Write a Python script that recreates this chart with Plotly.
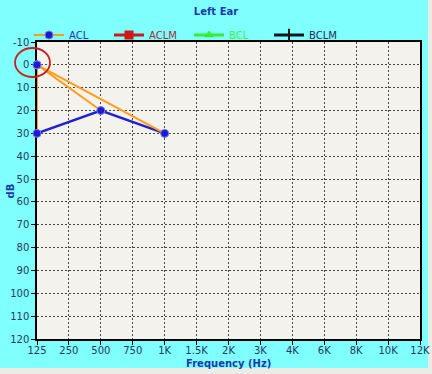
import plotly.graph_objects as go

freq_labels = ["125", "250", "500", "750", "1K", "1.5K", "2K", "3K", "4K", "6K", "8K", "10K", "12K"]
db_ticks = list(range(-10, 121, 10))

# ACL (orange connecting path with blue markers)
acl_x = ["125", "125", "500", "125", "1K"]
acl_y = [30, 0, 20, 0, 30]
# blue threshold line
thr_x = ["125", "500", "1K"]
thr_y = [30, 20, 30]

W, H = 432, 374
L, R, T, B = 37, 12, 42, 35
pw, ph = W - L - R, H - T - B

def px(x):
    return (x - L) / pw

def py(y):
    return (H - B - y) / ph

FONT = "DejaVu Sans"
NAVY = "#1f3a60"
BLUE_T = "#1a3aaa"
OUTER = "#ecebe4"

fig = go.Figure()
fig.add_trace(go.Scatter(x=thr_x, y=thr_y, mode="lines",
                         line=dict(color="#2222cc", width=2.5), showlegend=False))
fig.add_trace(go.Scatter(x=acl_x, y=acl_y, mode="lines+markers", name="ACL",
                         cliponaxis=False,
                         line=dict(color="#ff9c1a", width=2),
                         marker=dict(color="#1c1cc8", size=8, symbol="circle",
                                     line=dict(color="#7a7aff", width=1))))
fig.add_trace(go.Scatter(x=[None], y=[None], mode="lines+markers", name="ACLM",
                         line=dict(color="#d01818", width=3),
                         marker=dict(color="#d01818", size=9, symbol="square")))
fig.add_trace(go.Scatter(x=[None], y=[None], mode="lines+markers", name="BCL",
                         line=dict(color="#33ee33", width=3),
                         marker=dict(color="#33ee33", size=9, symbol="triangle-up")))
fig.add_trace(go.Scatter(x=[None], y=[None], mode="lines+markers", name="BCLM",
                         line=dict(color="#101820", width=3),
                         marker=dict(color="#101820", size=9, symbol="line-ns",
                                     line=dict(color="#101820", width=2))))

legend_colors = ["#1a3aaa", "#a03030", "#44ee44", "#1f2f50"]

fig.update_layout(
    width=W, height=H,
    margin=dict(l=L, r=R, t=T, b=B, autoexpand=False),
    paper_bgcolor="#80ffff",
    plot_bgcolor="#f4f2ec",
    font=dict(family=FONT, size=10, color=NAVY),
    title=dict(text="<b>Left Ear</b>", x=216 / W, xref="container", xanchor="center",
               y=1 - 11 / H, yanchor="middle", yref="container",
               font=dict(family=FONT, size=10, color=BLUE_T)),
    showlegend=True,
    legend=dict(orientation="h", x=px(29), xanchor="left", y=py(35), yanchor="middle",
                bgcolor="rgba(0,0,0,0)", entrywidth=35, entrywidthmode="pixels",
                font=dict(family=FONT, size=10, color=BLUE_T)),
    xaxis=dict(type="category", categoryorder="array", categoryarray=freq_labels,
               tickmode="array", tickvals=freq_labels, ticktext=freq_labels,
               range=[0, len(freq_labels) - 1], automargin=False, layer="below traces",
               showgrid=True, gridcolor="#444444", gridwidth=1, griddash="2px,2px",
               showline=True, linecolor="#000000", linewidth=1.5, mirror=True,
               ticks="outside", ticklen=4, tickcolor="#000000", ticklabelstandoff=-3,
               tickfont=dict(family=FONT, size=10, color=NAVY),
               zeroline=False),
    yaxis=dict(range=[120, -10], tickmode="array", tickvals=db_ticks,
               ticktext=[str(v) for v in db_ticks], automargin=False, layer="below traces",
               showgrid=True, gridcolor="#444444", gridwidth=1, griddash="2px,2px",
               showline=True, linecolor="#000000", linewidth=1.5, mirror=True,
               ticks="outside", ticklen=4, tickcolor="#000000",
               tickfont=dict(family=FONT, size=10, color=NAVY),
               zeroline=False),
    annotations=[
        dict(text="<b>Frequency (Hz)</b>", xref="paper", yref="paper",
             x=0.5, y=py(363.5), xanchor="center", yanchor="middle", showarrow=False,
             font=dict(family=FONT, size=10, color=BLUE_T)),
        dict(text="<b>dB</b>", xref="paper", yref="paper", textangle=-90,
             x=px(9.5), y=py(191), xanchor="center", yanchor="middle", showarrow=False,
             font=dict(family=FONT, size=10, color=BLUE_T)),
    ],
    shapes=[
        dict(type="rect", xref="paper", yref="paper", layer="below",
             x0=px(-2), x1=px(W + 2), y0=py(368), y1=py(H + 2),
             fillcolor=OUTER, line=dict(width=0)),
        dict(type="rect", xref="paper", yref="paper", layer="below",
             x0=px(428), x1=px(W + 2), y0=py(H + 2), y1=py(-2),
             fillcolor=OUTER, line=dict(width=0)),
        dict(type="circle", xref="paper", yref="paper", layer="above",
             x0=px(15), x1=px(50), y0=py(77), y1=py(48),
             line=dict(color="#c82020", width=1.8)),
    ],
)

names = ["ACL", "ACLM", "BCL", "BCLM"]
for tr in fig.data:
    if tr.name in names:
        c = legend_colors[names.index(tr.name)]
        tr.name = f"<span style='color:{c}'>{tr.name}</span>"

fig.write_html("out.html")
